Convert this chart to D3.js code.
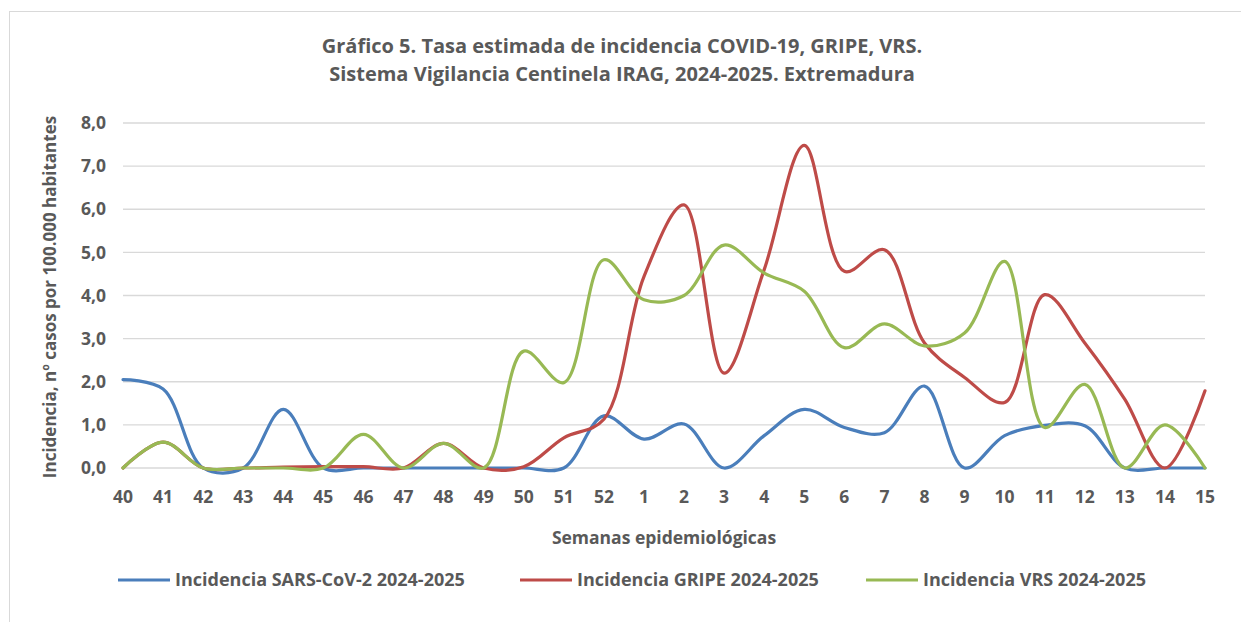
<!DOCTYPE html>
<html>
<head>
<meta charset="utf-8">
<script src="https://cdn.jsdelivr.net/npm/d3@7"></script>
<style>
  body { margin: 0; background: #fff; }
  text { font-family: "Open Sans", Lato, sans-serif; font-weight: bold; fill: #595959; }
</style>
</head>
<body>
<svg id="chart" width="1241" height="622"></svg>
<script>
var weeks = ['40','41','42','43','44','45','46','47','48','49','50','51','52',
             '1','2','3','4','5','6','7','8','9','10','11','12','13','14','15'];

var sarsCov2 = [2.05,1.83,0,0,1.36,0,0,0,0,0,0,0,1.21,0.67,1.02,0,0.75,1.36,0.94,0.82,1.9,0,0.75,0.99,0.98,0,0,0];
var gripe    = [0,0.6,0,0,0.02,0.03,0.03,0,0.57,0,0.03,0.7,1.13,4.44,6.1,2.2,4.6,7.48,4.56,5.06,2.9,2.1,1.52,4.02,2.9,1.59,0,1.79];
var vrs      = [0,0.6,0,0,0,0,0.78,0,0.57,0,2.71,1.98,4.83,3.9,4.0,5.17,4.52,4.1,2.79,3.34,2.83,3.13,4.79,0.94,1.94,0,1.0,0];

var yTicks = [0,1,2,3,4,5,6,7,8];

var series = [
    { name: 'Incidencia SARS-CoV-2 2024-2025', values: sarsCov2, color: '#4a7ebb' },
    { name: 'Incidencia GRIPE 2024-2025', values: gripe, color: '#be4b48' },
    { name: 'Incidencia VRS 2024-2025', values: vrs, color: '#98b954' }
];

var svg = d3.select('#chart');

// frame
svg.append('rect')
    .attr('x', 9.5).attr('y', 11.5)
    .attr('width', 1300).attr('height', 700)
    .attr('fill', 'none').attr('stroke', '#d9d9d9');

var plotL = 123, plotR = 1205, plotT = 123, plotB = 468;

var x = d3.scalePoint().domain(weeks).range([plotL, plotR]);
var y = d3.scaleLinear().domain([0, 8]).range([plotB, plotT]);

// gridlines
svg.append('g').selectAll('line').data(yTicks).enter().append('line')
    .attr('x1', plotL).attr('x2', plotR)
    .attr('y1', function(d) { return y(d); })
    .attr('y2', function(d) { return y(d); })
    .attr('stroke', '#d9d9d9').attr('stroke-width', 1.3);

// y tick labels
svg.append('g').selectAll('text').data(yTicks).enter().append('text')
    .attr('x', 106)
    .attr('y', function(d) { return y(d); })
    .attr('dy', '0.35em')
    .attr('text-anchor', 'end')
    .style('font-size', '17.5px')
    .text(function(d) { return d3.format('.1f')(d).replace('.', ','); });

// x tick labels
svg.append('g').selectAll('text').data(weeks).enter().append('text')
    .attr('x', function(d) { return x(d); })
    .attr('y', 503)
    .attr('text-anchor', 'middle')
    .style('font-size', '17.5px')
    .text(function(d) { return d; });

// lines
var line = d3.line()
    .x(function(d, i) { return x(weeks[i]); })
    .y(function(d) { return y(d); })
    .curve(d3.curveCatmullRom);

svg.append('g').selectAll('path').data(series).enter().append('path')
    .attr('d', function(s) { return line(s.values); })
    .attr('fill', 'none')
    .attr('stroke', function(s) { return s.color; })
    .attr('stroke-width', 3.2)
    .attr('stroke-linecap', 'round')
    .attr('stroke-linejoin', 'round');

// titles
var title = svg.append('text')
    .attr('x', 622).attr('y', 53)
    .attr('text-anchor', 'middle')
    .style('font-size', '20px');
title.append('tspan').attr('x', 622).text('Gráfico 5. Tasa estimada de incidencia COVID-19, GRIPE, VRS.');
title.append('tspan').attr('x', 622).attr('dy', 28).text('Sistema Vigilancia Centinela IRAG, 2024-2025. Extremadura');

svg.append('text')
    .attr('x', 664).attr('y', 544)
    .attr('text-anchor', 'middle')
    .style('font-size', '17.5px')
    .text('Semanas epidemiológicas');

svg.append('text')
    .attr('transform', 'translate(56,297) rotate(-90)')
    .attr('text-anchor', 'middle')
    .style('font-size', '17px')
    .text('Incidencia, nº casos por 100.000 habitantes');

// legend
var legendX = [118, 520, 866];
var legend = svg.append('g').selectAll('g').data(series).enter().append('g')
    .attr('transform', function(d, i) { return 'translate(' + legendX[i] + ',580)'; });
legend.append('line')
    .attr('x1', 0).attr('x2', 52)
    .attr('stroke', function(d) { return d.color; })
    .attr('stroke-width', 3.2);
legend.append('text')
    .attr('x', 57).attr('dy', '0.35em')
    .style('font-size', '18px')
    .text(function(d) { return d.name; });
</script>
</body>
</html>
